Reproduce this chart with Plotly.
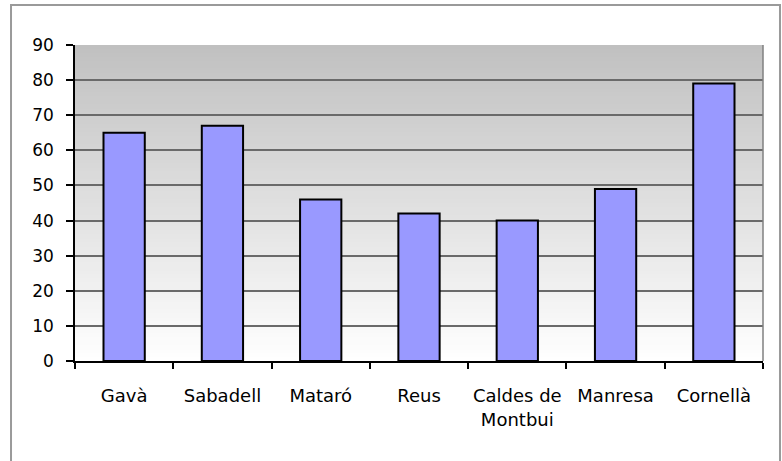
import plotly.graph_objects as go

categories = ["Gavà", "Sabadell", "Mataró", "Reus", "Caldes de<br>Montbui", "Manresa", "Cornellà"]
values = [65, 67, 46, 42, 40, 49, 79]
y_ticks = [0, 10, 20, 30, 40, 50, 60, 70, 80, 90]

fig = go.Figure()
fig.add_trace(go.Bar(
    x=categories, y=values,
    marker=dict(color="#9999FF", line=dict(color="black", width=2)),
    width=0.42,
))

shapes = []
n = 80
top = (192, 192, 192)
for i in range(n):
    c = tuple(int(round(top[k] + (255 - top[k]) * (1 - (i + 0.5) / n))) for k in range(3))
    shapes.append(dict(type="rect", xref="x domain", yref="y domain",
                       x0=0, x1=1, y0=i / n, y1=min(1.0, (i + 2) / n),
                       fillcolor="rgb(%d,%d,%d)" % c, line=dict(width=0), layer="below"))
# right border of plot area
shapes.append(dict(type="line", xref="x domain", yref="y domain", x0=1, x1=1, y0=0, y1=1,
                   line=dict(color="#808080", width=1.5), layer="above"))
# outer chart border
shapes.append(dict(type="rect", xref="paper", yref="paper", x0=-0.093, x1=1.0247, y0=-0.4, y1=1.1266,
                   line=dict(color="#9a9a9a", width=2), fillcolor="rgba(0,0,0,0)", layer="above"))

fig.update_layout(
    width=782, height=461,
    margin=dict(l=75, r=19, t=45, b=100),
    paper_bgcolor="white", plot_bgcolor="white",
    font=dict(family="DejaVu Sans", size=18, color="black"),
    showlegend=False,
    shapes=shapes,
    bargap=0.58,
)
fig.update_yaxes(range=[0, 90], tickvals=y_ticks, showgrid=True, gridcolor="#6a6a6a", gridwidth=1.6,
                 showline=True, linecolor="black", linewidth=1.5, ticks="outside", ticklen=7,
                 tickcolor="black", tickwidth=1.5, zeroline=False, ticklabelstandoff=9,
                 tickfont=dict(size=17))
fig.update_xaxes(showline=True, linecolor="black", linewidth=1.5, ticks="outside", ticklen=6,
                 tickcolor="black", tickwidth=1.5, tickson="boundaries", showgrid=False,
                 ticklabelstandoff=18)

fig.write_html("out.html", config={"displayModeBar": False},
               post_script="document.body.style.margin='0';")
